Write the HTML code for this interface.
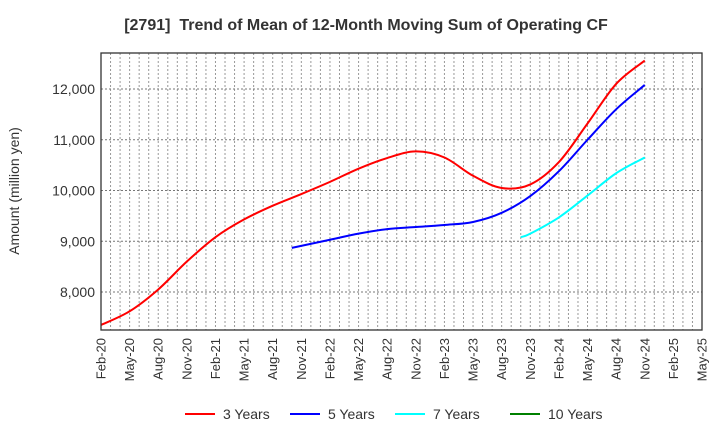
<!DOCTYPE html>
<html><head><meta charset="utf-8"><style>
body{margin:0;background:#fff;font-family:"Liberation Sans",sans-serif}
svg text{font-family:"Liberation Sans",sans-serif;fill:#333}
</style></head><body>
<svg id="c" width="720" height="440" xmlns="http://www.w3.org/2000/svg">
<text x="366" y="30" text-anchor="middle" font-size="16" font-weight="bold">[2791]&#160; Trend of Mean of 12-Month Moving Sum of Operating CF</text>
<text transform="translate(19,191) rotate(-90)" text-anchor="middle" font-size="14">Amount (million yen)</text>
<g id="grid"></g><g id="series"></g><g id="axes"></g><g id="legend"></g>
</svg>
<script>
const xLabels=["Feb-20","May-20","Aug-20","Nov-20","Feb-21","May-21","Aug-21","Nov-21","Feb-22","May-22","Aug-22","Nov-22","Feb-23","May-23","Aug-23","Nov-23","Feb-24","May-24","Aug-24","Nov-24","Feb-25","May-25"];
const yTicks=[8000,9000,10000,11000,12000];
const seriesNames=["3 Years","5 Years","7 Years","10 Years"];
const seriesColors=["#ff0000","#0000ff","#00ffff","#008000"];
const months3=[0,3,6,9,12,15,18,21,24,27,30,33,36,39,42,45,48,51,54,57];
const vals3=[7350,7620,8050,8600,9080,9430,9700,9930,10170,10430,10640,10770,10650,10290,10050,10120,10560,11320,12100,12560];
const months5=[20,24,27,30,33,36,39,42,45,48,51,54,57];
const vals5=[8870,9030,9150,9240,9280,9320,9380,9560,9890,10380,11000,11600,12080];
const months7=[44,45,48,51,54,57];
const vals7=[9080,9150,9470,9900,10340,10650];
const months10=[];
const vals10=[];
const L=101,R=702,T=53,B=330,NM=63;
const xs=m=>L+(R-L)*m/NM;
const ys=v=>292-(v-8000)*(203/4000);
const NS="http://www.w3.org/2000/svg";
function mk(t,a,p){const e=document.createElementNS(NS,t);for(const k in a)e.setAttribute(k,a[k]);p.appendChild(e);return e;}
const grid=document.getElementById('grid'),axes=document.getElementById('axes'),ser=document.getElementById('series'),leg=document.getElementById('legend');
for(let m=1;m<NM;m++){const g=mk('line',{x1:xs(m),x2:xs(m),y1:T,y2:B,stroke:'#999','stroke-dasharray':'2,2','stroke-width':1},grid);

}
yTicks.forEach(v=>{const g=mk('line',{x1:L,x2:R,y1:ys(v),y2:ys(v),stroke:'#777','stroke-dasharray':'2,2','stroke-width':1},grid);


const t=mk('text',{x:L-6,y:ys(v)+5,'text-anchor':'end','font-size':14},axes);t.textContent=v.toLocaleString('en-US');

});
xLabels.forEach((s,i)=>{const x=xs(i*3);const t=mk('text',{transform:`translate(${x+4.5},338) rotate(-90)`,'text-anchor':'end','font-size':13},axes);t.textContent=s;

});
const fr=mk('rect',{x:L,y:T,width:R-L,height:B-T,fill:'none',stroke:'#333','stroke-width':1.3},axes);


function path(ms,vs){const p=ms.map((m,i)=>[xs(m),ys(vs[i])]);if(p.length<2)return'';let d=`M${p[0][0]},${p[0][1]}`;
for(let i=0;i<p.length-1;i++){const p0=p[i-1]||p[i],p1=p[i],p2=p[i+1],p3=p[i+2]||p2;
d+=` C${p1[0]+(p2[0]-p0[0])/6},${p1[1]+(p2[1]-p0[1])/6} ${p2[0]-(p3[0]-p1[0])/6},${p2[1]-(p3[1]-p1[1])/6} ${p2[0]},${p2[1]}`;}return d;}
const data=[[months3,vals3],[months5,vals5],[months7,vals7],[months10,vals10]];
data.forEach((d,i)=>{const pd=path(d[0],d[1]);if(!pd)return;const e=mk('path',{d:pd,fill:'none',stroke:seriesColors[i],'stroke-width':2},ser);

});
const lx=[185,290,395,510];
seriesNames.forEach((s,i)=>{const g=mk('g',{},leg);


mk('line',{x1:lx[i],x2:lx[i]+30,y1:414,y2:414,stroke:seriesColors[i],'stroke-width':2},g);
const t=mk('text',{x:lx[i]+38,y:419,'font-size':14},g);t.textContent=s;});
</script>
</body></html>
